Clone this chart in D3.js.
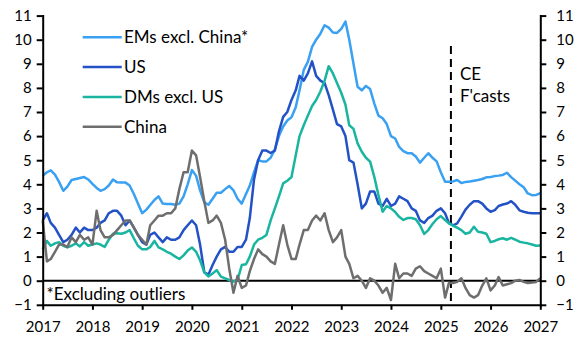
<!DOCTYPE html>
<html>
<head>
<meta charset="utf-8">
<script src="https://cdn.jsdelivr.net/npm/d3@7"></script>
<style>
  html, body { margin: 0; padding: 0; background: #fff; }
  #chart { width: 585px; height: 344px; }
  text { font-family: Lato, "Noto Sans", sans-serif; fill: #000; }
  .axis path, .axis line { stroke: #000; stroke-width: 2; }
  .axis text { font-size: 15px; }
</style>
</head>
<body>
<div id="chart"></div>
<script>
// Monthly CPI inflation, % y/y, Jan 2017 to Jan 2027 (forecasts from Apr 2025)
const startYear = 2017;
const yearTicks = [2017, 2018, 2019, 2020, 2021, 2022, 2023, 2024, 2025, 2026, 2027];
const valueTicks = [-1, 0, 1, 2, 3, 4, 5, 6, 7, 8, 9, 10, 11];

const emsExChina = [
  4.35, 4.5, 4.58, 4.4, 4.1, 3.73, 3.9, 4.18, 4.22, 4.26, 4.3, 4.2,
  4.02, 3.85, 3.73, 3.8, 3.95, 4.2, 4.08, 4.07, 4.07, 3.95, 3.6, 3.2,
  2.8, 2.95, 3.14, 3.35, 3.5, 3.2, 3.18, 3.18, 3.15, 3.2, 3.5, 4.0,
  4.59, 4.35, 3.75, 3.25, 3.15, 3.4, 3.65, 3.65, 3.8, 3.93, 3.75, 3.4,
  3.2, 3.6, 3.95, 4.5, 5.0, 4.95, 4.95, 5.1, 5.45, 6.0, 6.4, 6.65,
  6.78, 7.2, 7.9, 8.75, 9.08, 9.7, 10.0, 10.25, 10.6, 10.5, 10.3, 10.28,
  10.45, 10.75, 10.0, 9.0, 8.05, 7.9, 8.08, 7.95, 7.35, 6.85, 6.74, 6.5,
  6.0, 5.9, 5.55, 5.38, 5.29, 5.29, 5.15, 4.9, 5.1, 5.29, 5.1, 4.95,
  4.5, 4.11, 4.11, 4.12, 4.18, 4.05, 4.1, 4.12, 4.15, 4.18, 4.22, 4.29,
  4.3, 4.34, 4.36, 4.39, 4.48, 4.3, 4.15, 4.0, 3.88, 3.62, 3.55, 3.56,
  3.63
];

const us = [
  2.5, 2.8, 2.4, 2.2, 1.9, 1.6, 1.7, 1.9, 2.2, 2.0, 2.2, 2.1,
  2.1, 2.2, 2.4, 2.5, 2.8, 2.9, 2.9, 2.7, 2.3, 2.5, 2.2, 1.9,
  1.6, 1.5, 1.9, 2.0, 1.8, 1.6, 1.8, 1.7, 1.7, 1.8, 2.1, 2.3,
  2.5, 2.3, 1.5, 0.35, 0.25, 0.65, 1.0, 1.3, 1.4, 1.2, 1.2, 1.4,
  1.4, 1.7, 2.6, 4.2, 5.0, 5.4, 5.4, 5.3, 5.4, 6.2, 6.8, 7.0,
  7.5, 7.9, 8.5, 8.3, 8.6, 9.1, 8.5, 8.3, 8.2, 7.7, 7.1, 6.5,
  6.4, 6.0, 5.0, 4.9, 4.0, 3.0, 3.2, 3.7, 3.7, 3.2, 3.1, 3.4,
  3.1, 3.2, 3.5, 3.4, 3.3, 3.0, 2.9, 2.5, 2.4, 2.6, 2.7, 2.9,
  3.0, 2.8, 2.4, 2.3, 2.38, 2.66, 2.95, 3.15, 3.3, 3.3, 3.2, 3.0,
  2.86, 2.93, 3.1, 3.16, 3.2, 3.3, 3.15, 2.92, 2.86, 2.82, 2.8, 2.8,
  2.8
];

const dmsExUs = [
  1.3, 1.65, 1.45, 1.55, 1.6, 1.45, 1.38, 1.45, 1.55, 1.42, 1.6, 1.45,
  1.5, 1.55, 1.5, 1.4, 1.7, 1.95, 1.97, 1.95, 2.0, 2.1, 1.76, 1.45,
  1.3, 1.3, 1.4, 1.65, 1.38, 1.3, 1.2, 1.12, 1.0, 0.9, 1.05, 1.25,
  1.38, 1.2, 0.85, 0.35, 0.18, 0.3, 0.44, 0.17, 0.1, 0.03, -0.04, 0.03,
  0.65, 0.68, 1.0, 1.5, 1.7, 1.78, 1.9, 2.5, 3.0, 3.5, 4.04, 4.15,
  4.3, 5.2, 6.0, 6.45, 6.85, 7.25, 7.5, 7.85, 8.3, 8.9, 8.6, 8.2,
  7.8, 7.3, 6.45, 6.3, 5.7, 5.35, 5.1, 4.94, 4.3, 3.55, 2.86, 3.1,
  3.0, 2.85, 2.65, 2.52, 2.6, 2.6, 2.55, 2.3, 1.94, 2.1, 2.35, 2.55,
  2.68, 2.52, 2.38, 2.28, 2.2, 2.1, 1.95, 2.0, 2.24, 2.03, 2.0, 1.95,
  1.6, 1.65, 1.72, 1.76, 1.7, 1.78, 1.7, 1.62, 1.58, 1.55, 1.5, 1.45,
  1.46
];

const china = [
  2.5, 0.8, 0.9, 1.2, 1.5, 1.5, 1.4, 1.8, 1.6, 1.9, 1.7, 1.8,
  1.5, 2.9, 2.1, 1.8, 1.8, 1.9, 2.1, 2.3, 2.5, 2.5, 2.2, 1.9,
  1.7, 1.5, 2.3, 2.5, 2.7, 2.7, 2.8, 2.8, 3.0, 3.8, 4.5, 4.5,
  5.4, 5.2, 4.3, 3.3, 2.4, 2.5, 2.7, 2.4, 1.7, 0.5, -0.5, 0.2,
  -0.3, -0.2, 0.4, 0.9, 1.3, 1.1, 1.0, 0.8, 0.7, 1.5, 2.3, 1.5,
  0.9, 0.9, 1.5, 2.1, 2.1, 2.5, 2.7, 2.5, 2.8, 2.1, 1.6, 1.8,
  2.1, 1.0, 0.7, 0.1, 0.2, 0.0, -0.3, 0.1, 0.0, -0.2, -0.5, -0.3,
  -0.8, 0.7, 0.1, 0.3, 0.3, 0.2, 0.5, 0.6, 0.4, 0.3, 0.2, 0.1,
  0.5, -0.7, -0.1, -0.1, -0.05, 0.1, -0.3, -0.6, -0.7, -0.6, -0.2, 0.1,
  -0.4, -0.2, 0.15, -0.2, -0.15, -0.1, 0.0, 0.03, -0.05, -0.1, -0.08, -0.05,
  0.1
];

const seriesNames = ["EMs excl. China*", "US", "DMs excl. US", "China"];
const seriesColors = ["#3aa0f2", "#2352c6", "#19b5a0", "#6e6e6e"];
const seriesValues = [emsExChina, us, dmsExUs, china];

const forecastStart = new Date(2025, 2, 16);

const width = 585;
const height = 344;
const margin = { top: 15.6, right: 44.7, bottom: 39.2, left: 42.7 };
const labelSize = 17;

const svg = d3.select("#chart")
  .append("svg")
  .attr("width", width)
  .attr("height", height);

const x = d3.scaleTime()
  .domain([new Date(startYear, 0, 1), new Date(2027, 0, 1)])
  .range([margin.left, width - margin.right]);

const y = d3.scaleLinear()
  .domain([-1, 11])
  .range([height - margin.bottom, margin.top]);

// zero line
svg.append("line")
  .attr("x1", x.range()[0])
  .attr("x2", x.range()[1])
  .attr("y1", y(0))
  .attr("y2", y(0))
  .attr("stroke", "#000")
  .attr("stroke-width", 2);

// forecast marker
svg.append("line")
  .attr("x1", x(forecastStart))
  .attr("x2", x(forecastStart))
  .attr("y1", 46)
  .attr("y2", y(-1))
  .attr("stroke", "#000")
  .attr("stroke-width", 2)
  .attr("stroke-dasharray", "8,5");

svg.append("text")
  .attr("x", x(forecastStart) + 9)
  .attr("y", 79.5)
  .attr("font-size", labelSize)
  .text("CE");

svg.append("text")
  .attr("x", x(forecastStart) + 9)
  .attr("y", 101.8)
  .attr("font-size", labelSize)
  .text("F'casts");

const line = d3.line()
  .x((d, i) => x(new Date(startYear, i, 1)))
  .y((d) => y(d));

seriesValues.forEach((values, k) => {
  svg.append("path")
    .datum(values)
    .attr("fill", "none")
    .attr("stroke", seriesColors[k])
    .attr("stroke-width", 2.5)
    .attr("stroke-linejoin", "round")
    .attr("d", line);
});

// axes
svg.append("g")
  .attr("class", "axis")
  .attr("transform", `translate(${margin.left},0)`)
  .call(d3.axisLeft(y).tickValues(valueTicks).tickSize(6).tickSizeOuter(0).tickPadding(5));

svg.append("g")
  .attr("class", "axis")
  .attr("transform", `translate(${width - margin.right},0)`)
  .call(d3.axisRight(y).tickValues(valueTicks).tickSize(6).tickSizeOuter(0).tickPadding(10));

svg.append("g")
  .attr("class", "axis")
  .attr("transform", `translate(0,${y(-1)})`)
  .call(
    d3.axisBottom(x)
      .tickValues(yearTicks.map((yr) => new Date(yr, 0, 1)))
      .tickFormat(d3.timeFormat("%Y"))
      .tickSize(5)
      .tickSizeOuter(0)
      .tickPadding(12)
  );

svg.selectAll(".axis .domain").attr("stroke-linecap", "square");

// legend
const legend = svg.append("g");
seriesNames.forEach((name, k) => {
  const ly = 37.3 + k * 29.8;
  legend.append("line")
    .attr("x1", 82.7)
    .attr("x2", 121.7)
    .attr("y1", ly)
    .attr("y2", ly)
    .attr("stroke", seriesColors[k])
    .attr("stroke-width", 2.5);
  legend.append("text")
    .attr("x", 124)
    .attr("y", ly + 6)
    .attr("font-size", labelSize)
    .text(name);
});

svg.append("text")
  .attr("x", 46.5)
  .attr("y", 299.5)
  .attr("font-size", labelSize)
  .text("*Excluding outliers");
</script>
</body>
</html>
